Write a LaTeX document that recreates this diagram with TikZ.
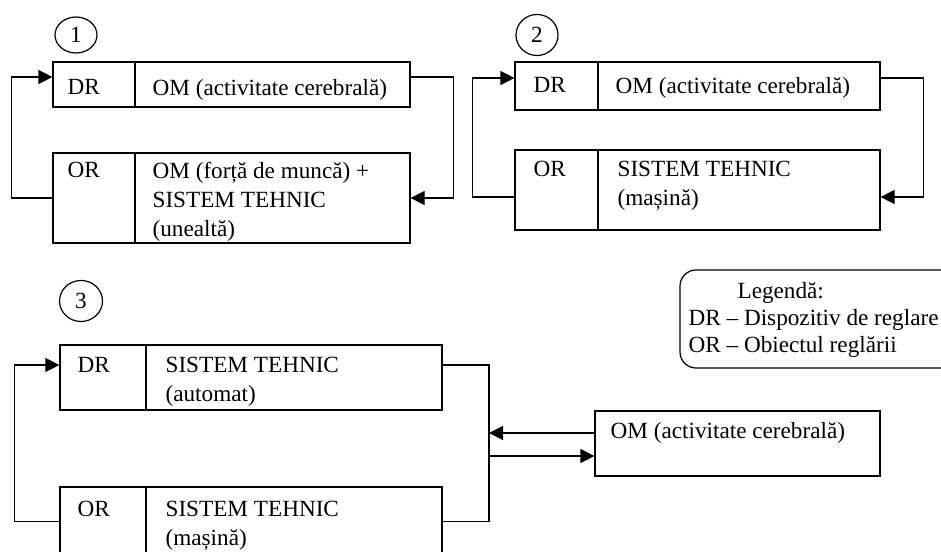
\documentclass[tikz,border=0pt]{standalone}
\usepackage{fontspec}
\setmainfont{Liberation Serif}
\usetikzlibrary{arrows.meta,fit,shapes.geometric}

\tikzset{
	frame/.style={draw, inner sep=0pt},
	txt/.style={anchor=north west, inner sep=0pt, align=left},
	nr/.style={draw, ellipse, inner sep=0pt, minimum width=21pt, minimum height=20.5pt},
	fb/.style={-{Triangle[length=7pt,width=7pt]}},
}

\begin{document}
\begin{tikzpicture}[x=0.5pt, y=-0.5pt, line width=0.6pt, font=\fontsize{11.6}{14.5}\selectfont]
	\clip (0,0) rectangle (941,551);
	% First loop -> the man is both DR and part of OR
	\node[nr, minimum height=18pt] (n1) at (76,35) {1};
	\node[frame, fit={(53,62) (135,107)}] (dr1) {};
	\node[frame, fit={(135,62) (410,107)}] (om1) {};
	\node[frame, fit={(53,153) (135,243)}] (or1) {};
	\node[frame, fit={(135,153) (410,243)}] (st1) {};
	\node[txt] (dr1t) at (67,79) {DR};
	\node[txt] (om1t) at (152,79) {OM (activitate cerebrală)};
	\node[txt] (or1t) at (67,162) {OR};
	\node[txt] (st1t) at (152,162) {OM (forță de muncă) +\\SISTEM TEHNIC\\(unealtă)};
	\draw[fb] (or1.west) -- ++(-41,0) |- ([yshift=3.75pt]dr1.west);
	\draw[fb] ([yshift=3.75pt]om1.east) -- ++(43,0) |- (st1.east);

	% Second loop -> the machine is the OR
	\node[nr] (n2) at (537,35) {2};
	\node[frame, fit={(515,62) (598,110)}] (dr2) {};
	\node[frame, fit={(598,62) (880,110)}] (om2) {};
	\node[frame, fit={(515,150) (598,230)}] (or2) {};
	\node[frame, fit={(598,150) (880,230)}] (st2) {};
	\node[txt] (dr2t) at (533,77) {DR};
	\node[txt] (om2t) at (615,77) {OM (activitate cerebrală)};
	\node[txt] (or2t) at (533,161) {OR};
	\node[txt] (st2t) at (617,161) {SISTEM TEHNIC\\(mașină)};
	\draw[fb] ([yshift=-3.5pt]or2.west) -- ++(-42,0) |- ([yshift=4pt]dr2.west);
	\draw[fb] ([yshift=4pt]om2.east) -- ++(43,0) |- ([yshift=-3.5pt]st2.east);

	% Third loop -> automat as DR, the man only watches
	\node[nr, minimum width=21.5pt] (n3) at (81,301) {3};
	\node[frame, fit={(60,345) (146,410)}] (dr3) {};
	\node[frame, fit={(146,345) (442,410)}] (sa3) {};
	\node[frame, fit={(60,487) (146,556)}] (or3) {};
	\node[frame, fit={(146,487) (442,556)}] (sm3) {};
	\node[frame, fit={(595,411) (880,476)}] (om3) {};
	\node[txt] (dr3t) at (77,357) {DR};
	\node[txt] (sa3t) at (165,357) {SISTEM TEHNIC\\(automat)};
	\node[txt] (or3t) at (77,501) {OR};
	\node[txt] (sm3t) at (165,501) {SISTEM TEHNIC\\(mașină)};
	\node[txt] (om3t) at (610,422) {OM (activitate cerebrală)};
	\coordinate (bus) at (489,0);
	\coordinate (om3a) at ([yshift=5.25pt]om3.west);
	\coordinate (om3b) at ([yshift=-6.25pt]om3.west);
	\draw[fb] (or3.west) -- ++(-45,0) |- ([yshift=6.25pt]dr3.west);
	\draw ([yshift=6.25pt]sa3.east) -| (bus |- sm3.east) -- (sm3.east);
	\draw[fb] (om3a) -- (om3a -| bus);
	\draw[fb] (om3b -| bus) -- (om3b);

	% Legend
	\node[frame, rounded corners=8pt, fit={(680,270) (960,368)}] (leg) {};
	\node[txt, font=\fontsize{11.6}{13.5}\selectfont] (legt) at (688,282)
		{\hspace*{24.5pt}Legendă:\\DR -- Dispozitiv de reglare\\OR -- Obiectul reglării};
\end{tikzpicture}
\end{document}
